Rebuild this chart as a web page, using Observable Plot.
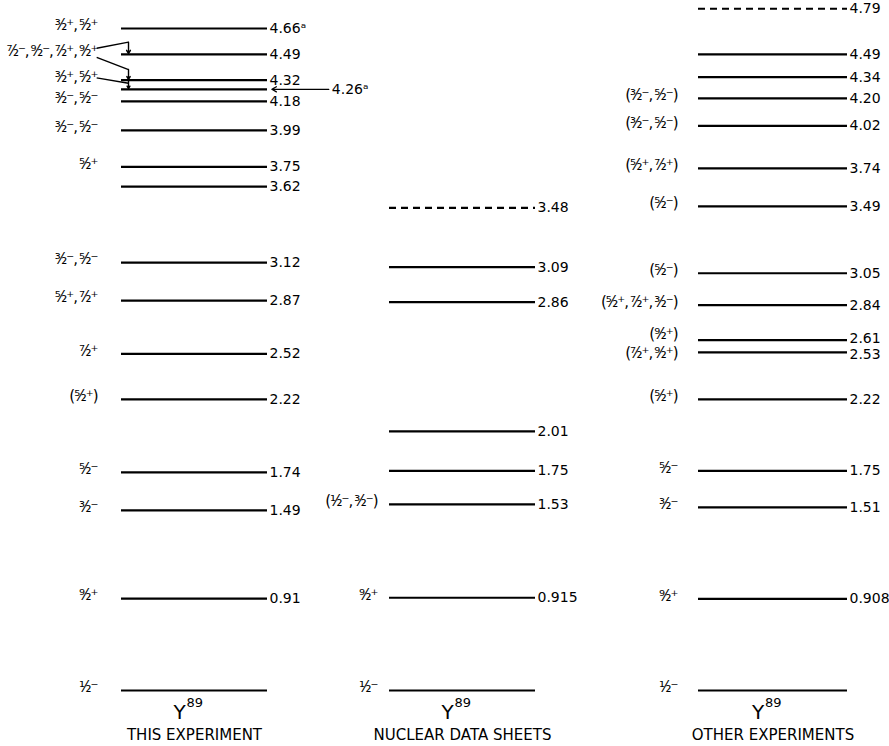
<!DOCTYPE html>
<html><head><meta charset="utf-8">
<script src="https://cdn.jsdelivr.net/npm/d3@7"></script>
<script src="https://cdn.jsdelivr.net/npm/@observablehq/plot@0.6"></script>
<style>body{margin:0;background:#fff}</style>
</head><body><div id="chart"></div>
<script>
// ---------- data ----------
const columnTitles = ["THIS EXPERIMENT", "NUCLEAR DATA SHEETS", "OTHER EXPERIMENTS"];
const nucleusSymbol = "Y";
const massNumber = "89";

// Column 1: this experiment
const thisExpEnergy = [0, 0.91, 1.49, 1.74, 2.22, 2.52, 2.87, 3.12, 3.62, 3.75, 3.99, 4.18, 4.26, 4.32, 4.49, 4.66];
const thisExpText   = ["", "0.91", "1.49", "1.74", "2.22", "2.52", "2.87", "3.12", "3.62", "3.75", "3.99", "4.18", "4.26ᵃ", "4.32", "4.49", "4.66ᵃ"];
const thisExpSpin   = ["1/2-", "9/2+", "3/2-", "5/2-", "(5/2+)", "7/2+", "5/2+,7/2+", "3/2-,5/2-", "", "5/2+", "3/2-,5/2-", "3/2-,5/2-", "", "3/2+,5/2+", "7/2-,9/2-,7/2+,9/2+", "3/2+,5/2+"];
const thisExpDashed = [];
const thisExpLeader = [4.26];

// Column 2: Nuclear Data Sheets
const ndsEnergy = [0, 0.915, 1.53, 1.75, 2.01, 2.86, 3.09, 3.48];
const ndsText   = ["", "0.915", "1.53", "1.75", "2.01", "2.86", "3.09", "3.48"];
const ndsSpin   = ["1/2-", "9/2+", "(1/2-,3/2-)", "", "", "", "", ""];
const ndsDashed = [3.48];

// Column 3: other experiments
const otherEnergy = [0, 0.908, 1.51, 1.75, 2.22, 2.53, 2.61, 2.84, 3.05, 3.49, 3.74, 4.02, 4.20, 4.34, 4.49, 4.79];
const otherText   = ["", "0.908", "1.51", "1.75", "2.22", "2.53", "2.61", "2.84", "3.05", "3.49", "3.74", "4.02", "4.20", "4.34", "4.49", "4.79"];
const otherSpin   = ["1/2-", "9/2+", "3/2-", "5/2-", "(5/2+)", "(7/2+,9/2+)", "(9/2+)", "(5/2+,7/2+,3/2-)", "(5/2-)", "(5/2-)", "(5/2+,7/2+)", "(3/2-,5/2-)", "(3/2-,5/2-)", "", "", ""];
const otherDashed = [4.79];

// ---------- layout ----------
const colLeft = [121, 389, 698];
const colWidth = [146, 146, 149];
const colX = (c, f) => colLeft[c] + f * colWidth[c];
const spinGap = [24, 12, 21];
// broken energy axis: the ground state is drawn closer to the 0.9 MeV level
const groundDisplay = 0.305;
const brk = E => (E === 0 ? groundDisplay : E);
const yTop = 4.8;
const yRange = [690, 598 - (yTop - 0.91) * 152];

// ---------- build ----------
const SUP = {"0":"⁰","1":"¹","2":"²","3":"³","4":"⁴","5":"⁵","6":"⁶","7":"⁷","8":"⁸","9":"⁹","+":"⁺","-":"⁻"};
const fmtSpin = s => s.replace(/(\d)\/2([+-])/g, (m, n, p) => SUP[n] + "\u2044\u2082" + SUP[p]).replace(/,/g, ",\u2009");

const cols = [
  {E: thisExpEnergy, T: thisExpText, S: thisExpSpin, D: thisExpDashed, L: thisExpLeader},
  {E: ndsEnergy, T: ndsText, S: ndsSpin, D: ndsDashed, L: []},
  {E: otherEnergy, T: otherText, S: otherSpin, D: otherDashed, L: []}
];
const levels = cols.flatMap((c, col) => c.E.map((E, i) => ({
  col, E, yb: brk(E), text: c.T[i], spin: fmtSpin(c.S[i]), dashed: c.D.includes(E), leader: c.L.includes(E)
})));

const yPx = d3.scaleLinear().domain([groundDisplay, yTop]).range(yRange);

function separate(rows, minGap) {
  for (let c = 0; c < 3; c++) {
    const r = rows.filter(d => d.col === c).sort((a, b) => a.yb - b.yb);
    const p = r.map(d => yPx(d.yb));
    for (let it = 0; it < 10; it++) {
      for (let i = 1; i < r.length; i++) {
        const gap = p[i - 1] - p[i];
        if (gap < minGap) { const s = (minGap - gap) / 2; p[i - 1] += s; p[i] -= s; }
      }
    }
    r.forEach((d, i) => d.yl = yPx.invert(p[i]));
  }
}
const spinRows = levels.filter(d => d.spin).map(d => ({...d}));
separate(spinRows, 19);
const textRows = levels.filter(d => d.text && !d.leader).map(d => ({...d}));
separate(textRows, 16);
const leaderRows = levels.filter(d => d.leader);

// bracket annotation in column 1 (layout x, energy y)
const xL = colX(0, -0.17), xA = colX(0, 0.048);
const bracketLinks = [
  {x1: xL, y1: 4.53, x2: xA, y2: 4.57},
  {x1: xL, y1: 4.47, x2: xA, y2: 4.39},
  {x1: xL, y1: 4.335, x2: xA, y2: 4.30}
];
const bracketArrows = [
  {x: xA, y1: 4.57, y2: 4.495},
  {x: xA, y1: 4.39, y2: 4.325},
  {x: xA, y1: 4.32, y2: 4.265}
];

const font = "DejaVu Sans";
const titleRows = columnTitles.map((t, i) => ({t, i}));

const chart = Plot.plot({
  width: 889, height: 746, margin: 0,
  x: {domain: [0, 889], range: [0, 889], axis: null},
  y: {domain: [groundDisplay, yTop], range: yRange, axis: null},
  style: {fontFamily: font, background: "white", color: "black"},
  marks: [
    Plot.ruleY(levels.filter(d => !d.dashed), {x1: d => colX(d.col, 0), x2: d => colX(d.col, 1), y: "yb", stroke: "black", strokeWidth: 2.2}),
    Plot.ruleY(levels.filter(d => d.dashed), {x1: d => colX(d.col, 0), x2: d => colX(d.col, 1), y: "yb", stroke: "black", strokeWidth: 2.2, strokeDasharray: "7,5"}),
    Plot.text(textRows, {x: d => colX(d.col, 1), y: "yl", text: "text", textAnchor: "start", dx: 2, fontSize: 14, fill: "black"}),
    Plot.arrow(leaderRows, {x1: d => colX(d.col, 1.42), x2: d => colX(d.col, 1.03), y1: "yb", y2: "yb", stroke: "black", strokeWidth: 1.3, headLength: 6}),
    Plot.text(leaderRows, {x: d => colX(d.col, 1.42), y: "yb", text: "text", textAnchor: "start", dx: 3, fontSize: 14, fill: "black"}),
    ...[0, 1, 2].map(c => Plot.text(spinRows.filter(d => d.col === c), {x: d => colX(d.col, 0), y: "yl", text: "spin", textAnchor: "end", dx: -spinGap[c], dy: -3, fontSize: 15, fill: "black"})),
    Plot.link(bracketLinks, {x1: "x1", y1: "y1", x2: "x2", y2: "y2", stroke: "black", strokeWidth: 1.4}),
    Plot.arrow(bracketArrows, {x1: "x", x2: "x", y1: "y1", y2: "y2", stroke: "black", strokeWidth: 1.4, headLength: 5}),
    Plot.text(titleRows, {x: d => colX(d.i, 0.5), y: () => groundDisplay, text: "t", dy: 45, fontSize: 15, fill: "black"}),
    Plot.text(titleRows, {x: d => colX(d.i, 0.5), y: () => groundDisplay, text: () => nucleusSymbol, dx: -15, dy: 22, fontSize: 20, fill: "black"}),
    Plot.text(titleRows, {x: d => colX(d.i, 0.5), y: () => groundDisplay, text: () => massNumber, textAnchor: "start", dx: -8, dy: 12, fontSize: 13, fill: "black"})
  ]
});
// tighten the spin-parity fractions
d3.select(chart).selectAll("text").filter(function () { return this.textContent.includes("\u2044"); }).attr("letter-spacing", "-1");
document.getElementById("chart").appendChild(chart);
</script>
</body></html>
